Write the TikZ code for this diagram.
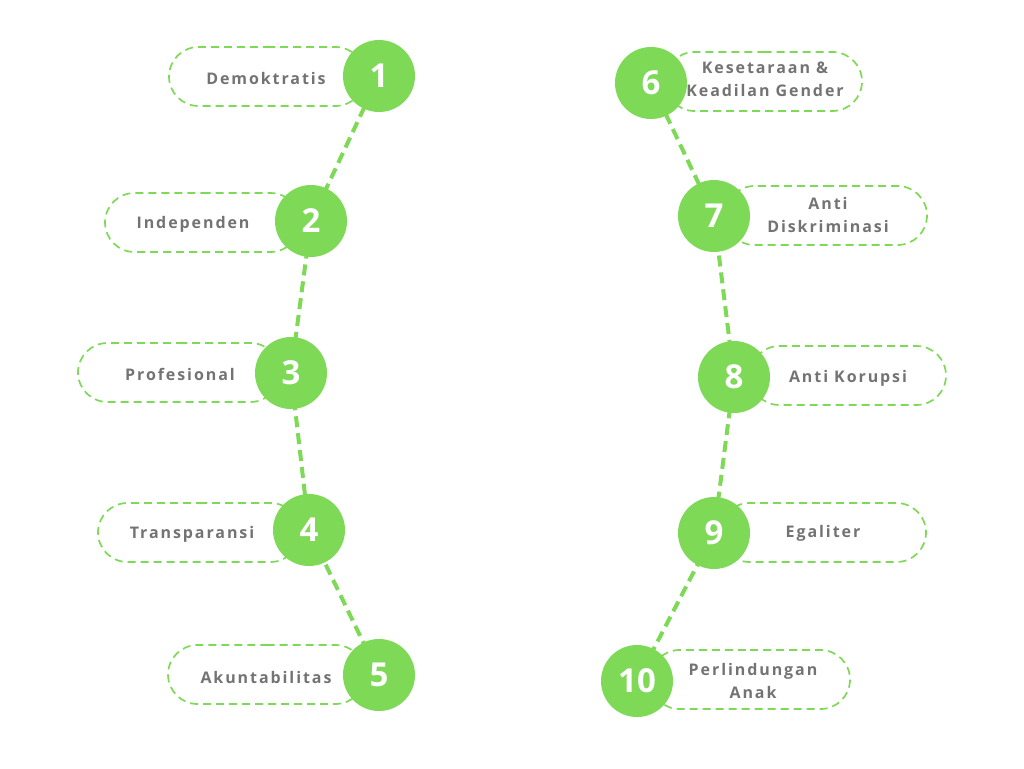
\documentclass[tikz,border=0pt]{standalone}
\usepackage{fontspec}
\setmainfont{Open Sans}
\newfontfamily\labelfont[LetterSpace=12]{Open Sans}
\usetikzlibrary{shapes.misc}
\definecolor{grn}{HTML}{7ED957}
\definecolor{txt}{HTML}{737373}
\tikzset{
  pill/.style={draw=grn, line width=1.7pt, dash pattern=on 8pt off 5pt, rounded rectangle, minimum height=59pt, inner sep=0pt},
  numc/.style={circle, fill=grn, minimum size=72pt, inner sep=0pt, text=white, font=\fontsize{33}{36}\selectfont\bfseries},
  lbl/.style={text=txt, font=\labelfont\fontsize{16}{23}\selectfont\bfseries, align=center},
  conn/.style={draw=grn, line width=4pt, dash pattern=on 11pt off 6pt},
}
\begin{document}
\begin{tikzpicture}[x=1pt,y=-1pt]
\useasboundingbox (0,0) rectangle (1024,768);
% pills
\node[pill, minimum width=196pt] (p1) at (267,76.5) {};
\node[pill, minimum width=195pt] (p2) at (202.5,222.5) {};
\node[pill, minimum width=202pt] (p3) at (179,372.5) {};
\node[pill, minimum width=202pt] (p4) at (199,532.5) {};
\node[pill, minimum width=197pt] (p5) at (266.5,674.5) {};
\node[pill, minimum width=197pt] (p6) at (763.5,81.5) {};
\node[pill, minimum width=202pt] (p7) at (826,215.5) {};
\node[pill, minimum width=196pt] (p8) at (848,375.5) {};
\node[pill, minimum width=206pt] (p9) at (823,532.5) {};
\node[pill, minimum width=200pt] (p10) at (750,679.5) {};
% labels
\node[lbl] (t1) at (266,78.5) {Demoktratis};
\node[lbl] (t2) at (193,224) {Independen};
\node[lbl] (t3) at (180,374) {Profesional};
\node[lbl] (t4) at (192,534) {Transparansi};
\node[lbl] (t5) at (266,677.5) {Akuntabilitas};
\node[lbl] (t6) at (765,79) {Kesetaraan \&\\Keadilan Gender};
\node[lbl] (t7) at (828,215) {Anti\\Diskriminasi};
\node[lbl] (t8) at (848,378) {Anti Korupsi};
\node[lbl] (t9) at (823,533) {Egaliter};
\node[lbl] (t10) at (753,681) {Perlindungan\\Anak};
% connector anchor points
\path (379,76) coordinate (c1) (311,221) coordinate (c2) (291,373) coordinate (c3) (309,530) coordinate (c4) (379,675) coordinate (c5)
  (651,83) coordinate (c6) (714,216) coordinate (c7) (734,377) coordinate (c8) (714,533) coordinate (c9) (637,681) coordinate (c10);
\draw[conn] (c1) -- (c2) -- (c3) -- (c4) -- (c5);
\draw[conn] (c6) -- (c7) -- (c8) -- (c9) -- (c10);
% circles
\node[numc] (n1) at (c1) {1};
\node[numc] (n2) at (c2) {2};
\node[numc] (n3) at (c3) {3};
\node[numc] (n4) at (c4) {4};
\node[numc] (n5) at (c5) {5};
\node[numc] (n6) at (c6) {6};
\node[numc] (n7) at (c7) {7};
\node[numc] (n8) at (c8) {8};
\node[numc] (n9) at (c9) {9};
\node[numc] (n10) at (c10) {10};
\end{tikzpicture}
\end{document}
